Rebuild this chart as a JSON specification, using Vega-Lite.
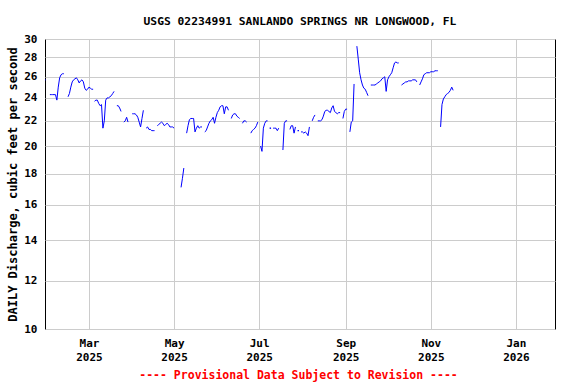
{
  "$schema": "https://vega.github.io/schema/vega-lite/v6.json",
  "autosize": "none",
  "width": 510,
  "height": 290,
  "padding": {"left": 45, "top": 39, "right": 21, "bottom": 55},
  "background": "white",
  "title": {
    "text": "USGS 02234991 SANLANDO SPRINGS NR LONGWOOD, FL",
    "font": "DejaVu Sans Mono",
    "fontSize": 11.3,
    "fontWeight": "bold",
    "color": "black",
    "anchor": "middle",
    "baseline": "alphabetic",
    "offset": 15,
    "dy": 18
  },
  "config": {
    "view": {"stroke": "black", "strokeWidth": 1},
    "axis": {
      "labelFont": "DejaVu Sans Mono",
      "labelFontWeight": "bold",
      "labelFontSize": 11,
      "labelColor": "black",
      "titleFont": "DejaVu Sans Mono",
      "titleFontWeight": "bold",
      "gridColor": "#cccccc",
      "gridWidth": 1,
      "gridOpacity": 1,
      "domain": false,
      "ticks": false
    }
  },
  "data": {
    "values": [
      {"d":"2025-01-28","q":25.7,"s":1},{"d":"2025-01-29","q":25.7,"s":1},
      {"d":"2025-02-01","q":24.3,"s":2},{"d":"2025-02-02","q":24.3,"s":2},{"d":"2025-02-03","q":24.3,"s":2},{"d":"2025-02-04","q":24.3,"s":2},{"d":"2025-02-05","q":24.3,"s":2},{"d":"2025-02-06","q":23.8,"s":2},{"d":"2025-02-07","q":25.0,"s":2},{"d":"2025-02-08","q":25.9,"s":2},{"d":"2025-02-09","q":26.2,"s":2},{"d":"2025-02-10","q":26.3,"s":2},{"d":"2025-02-11","q":26.3,"s":2},
      {"d":"2025-02-14","q":24.1,"s":3},{"d":"2025-02-15","q":24.4,"s":3},{"d":"2025-02-16","q":25.0,"s":3},{"d":"2025-02-17","q":25.5,"s":3},{"d":"2025-02-18","q":25.7,"s":3},{"d":"2025-02-19","q":25.8,"s":3},{"d":"2025-02-20","q":25.9,"s":3},{"d":"2025-02-21","q":25.7,"s":3},{"d":"2025-02-22","q":25.4,"s":3},{"d":"2025-02-23","q":25.6,"s":3},{"d":"2025-02-24","q":25.7,"s":3},{"d":"2025-02-25","q":25.5,"s":3},{"d":"2025-02-26","q":24.9,"s":3},{"d":"2025-02-27","q":24.7,"s":3},{"d":"2025-02-28","q":24.8,"s":3},{"d":"2025-03-01","q":25.0,"s":3},{"d":"2025-03-02","q":24.9,"s":3},{"d":"2025-03-03","q":24.8,"s":3},{"d":"2025-03-04","q":24.8,"s":3},
      {"d":"2025-03-05","q":23.7,"s":4},{"d":"2025-03-06","q":23.8,"s":4},{"d":"2025-03-07","q":23.8,"s":4},{"d":"2025-03-08","q":23.5,"s":4},{"d":"2025-03-09","q":23.3,"s":4},{"d":"2025-03-10","q":23.4,"s":4},{"d":"2025-03-11","q":21.4,"s":4},{"d":"2025-03-12","q":22.0,"s":4},{"d":"2025-03-13","q":23.8,"s":4},{"d":"2025-03-14","q":24.0,"s":4},{"d":"2025-03-15","q":24.0,"s":4},{"d":"2025-03-16","q":24.1,"s":4},{"d":"2025-03-17","q":24.2,"s":4},{"d":"2025-03-18","q":24.4,"s":4},{"d":"2025-03-19","q":24.6,"s":4},
      {"d":"2025-03-21","q":23.3,"s":5},{"d":"2025-03-22","q":23.3,"s":5},{"d":"2025-03-23","q":23.1,"s":5},{"d":"2025-03-24","q":22.8,"s":5},
      {"d":"2025-03-26","q":21.9,"s":6},{"d":"2025-03-27","q":22.0,"s":6},{"d":"2025-03-28","q":22.3,"s":6},{"d":"2025-03-29","q":21.9,"s":6},
      {"d":"2025-04-01","q":22.6,"s":7},{"d":"2025-04-02","q":22.6,"s":7},{"d":"2025-04-03","q":22.6,"s":7},{"d":"2025-04-04","q":22.5,"s":7},{"d":"2025-04-05","q":22.3,"s":7},{"d":"2025-04-06","q":21.9,"s":7},{"d":"2025-04-07","q":21.5,"s":7},{"d":"2025-04-08","q":22.2,"s":7},{"d":"2025-04-09","q":22.9,"s":7},
      {"d":"2025-04-11","q":21.4,"s":8},{"d":"2025-04-12","q":21.5,"s":8},{"d":"2025-04-13","q":21.3,"s":8},{"d":"2025-04-14","q":21.3,"s":8},{"d":"2025-04-15","q":21.2,"s":8},{"d":"2025-04-16","q":21.2,"s":8},{"d":"2025-04-17","q":21.2,"s":8},
      {"d":"2025-04-19","q":21.6,"s":9},{"d":"2025-04-20","q":21.7,"s":9},{"d":"2025-04-21","q":21.8,"s":9},{"d":"2025-04-22","q":21.9,"s":9},{"d":"2025-04-23","q":21.8,"s":9},{"d":"2025-04-24","q":21.6,"s":9},{"d":"2025-04-25","q":21.7,"s":9},{"d":"2025-04-26","q":21.8,"s":9},{"d":"2025-04-27","q":21.7,"s":9},{"d":"2025-04-28","q":21.5,"s":9},{"d":"2025-04-29","q":21.5,"s":9},{"d":"2025-04-30","q":21.5,"s":9},{"d":"2025-05-01","q":21.4,"s":9},
      {"d":"2025-05-06","q":17.1,"s":10},{"d":"2025-05-07","q":17.7,"s":10},{"d":"2025-05-08","q":18.4,"s":10},
      {"d":"2025-05-10","q":21.0,"s":11},{"d":"2025-05-11","q":21.6,"s":11},{"d":"2025-05-12","q":22.1,"s":11},{"d":"2025-05-13","q":22.2,"s":11},{"d":"2025-05-14","q":22.2,"s":11},{"d":"2025-05-15","q":22.2,"s":11},{"d":"2025-05-16","q":21.1,"s":11},{"d":"2025-05-17","q":21.4,"s":11},{"d":"2025-05-18","q":21.6,"s":11},{"d":"2025-05-19","q":21.4,"s":11},{"d":"2025-05-20","q":21.5,"s":11},{"d":"2025-05-21","q":21.5,"s":11},
      {"d":"2025-05-23","q":21.1,"s":12},{"d":"2025-05-24","q":21.2,"s":12},{"d":"2025-05-25","q":21.5,"s":12},{"d":"2025-05-26","q":21.8,"s":12},{"d":"2025-05-27","q":22.0,"s":12},{"d":"2025-05-28","q":22.1,"s":12},{"d":"2025-05-29","q":22.3,"s":12},{"d":"2025-05-30","q":21.8,"s":12},{"d":"2025-05-31","q":22.3,"s":12},{"d":"2025-06-01","q":22.7,"s":12},{"d":"2025-06-02","q":22.9,"s":12},{"d":"2025-06-03","q":23.2,"s":12},{"d":"2025-06-04","q":23.3,"s":12},{"d":"2025-06-05","q":23.3,"s":12},{"d":"2025-06-06","q":22.6,"s":12},{"d":"2025-06-07","q":23.2,"s":12},{"d":"2025-06-08","q":23.2,"s":12},{"d":"2025-06-09","q":22.9,"s":12},
      {"d":"2025-06-11","q":22.2,"s":13},{"d":"2025-06-12","q":22.5,"s":13},{"d":"2025-06-13","q":22.6,"s":13},{"d":"2025-06-14","q":22.6,"s":13},{"d":"2025-06-15","q":22.4,"s":13},{"d":"2025-06-16","q":22.3,"s":13},{"d":"2025-06-17","q":22.2,"s":13},
      {"d":"2025-06-19","q":21.8,"s":14},{"d":"2025-06-20","q":22.0,"s":14},{"d":"2025-06-21","q":22.0,"s":14},{"d":"2025-06-22","q":21.9,"s":14},
      {"d":"2025-06-25","q":21.0,"s":15},{"d":"2025-06-26","q":21.2,"s":15},{"d":"2025-06-27","q":21.3,"s":15},{"d":"2025-06-28","q":21.4,"s":15},{"d":"2025-06-29","q":21.6,"s":15},{"d":"2025-06-30","q":21.9,"s":15},
      {"d":"2025-07-02","q":20.0,"s":16},{"d":"2025-07-03","q":19.6,"s":16},{"d":"2025-07-04","q":21.4,"s":16},{"d":"2025-07-05","q":21.8,"s":16},{"d":"2025-07-06","q":22.0,"s":16},{"d":"2025-07-07","q":22.0,"s":16},
      {"d":"2025-07-09","q":21.4,"s":17},
      {"d":"2025-07-11","q":21.4,"s":18},{"d":"2025-07-12","q":21.4,"s":18},{"d":"2025-07-13","q":21.4,"s":18},{"d":"2025-07-14","q":21.2,"s":18},{"d":"2025-07-15","q":21.4,"s":18},
      {"d":"2025-07-18","q":19.7,"s":19},{"d":"2025-07-19","q":21.8,"s":19},{"d":"2025-07-20","q":22.0,"s":19},{"d":"2025-07-21","q":22.0,"s":19},
      {"d":"2025-07-23","q":21.3,"s":20},{"d":"2025-07-24","q":21.6,"s":20},{"d":"2025-07-25","q":21.6,"s":20},{"d":"2025-07-26","q":21.0,"s":20},{"d":"2025-07-27","q":21.5,"s":20},
      {"d":"2025-07-29","q":21.2,"s":21},
      {"d":"2025-07-31","q":21.1,"s":22},{"d":"2025-08-01","q":21.1,"s":22},{"d":"2025-08-02","q":21.0,"s":22},{"d":"2025-08-03","q":21.1,"s":22},{"d":"2025-08-04","q":21.0,"s":22},{"d":"2025-08-05","q":20.8,"s":22},{"d":"2025-08-06","q":21.5,"s":22},
      {"d":"2025-08-08","q":22.0,"s":23},{"d":"2025-08-09","q":22.3,"s":23},{"d":"2025-08-10","q":22.5,"s":23},
      {"d":"2025-08-12","q":22.0,"s":24},{"d":"2025-08-13","q":22.0,"s":24},{"d":"2025-08-14","q":22.0,"s":24},{"d":"2025-08-15","q":22.1,"s":24},{"d":"2025-08-16","q":22.4,"s":24},{"d":"2025-08-17","q":22.8,"s":24},{"d":"2025-08-18","q":22.9,"s":24},{"d":"2025-08-19","q":22.9,"s":24},{"d":"2025-08-20","q":22.8,"s":24},{"d":"2025-08-21","q":22.7,"s":24},{"d":"2025-08-22","q":23.1,"s":24},{"d":"2025-08-23","q":23.3,"s":24},{"d":"2025-08-24","q":22.8,"s":24},{"d":"2025-08-25","q":22.7,"s":24},{"d":"2025-08-26","q":22.6,"s":24},{"d":"2025-08-27","q":22.7,"s":24},{"d":"2025-08-28","q":22.7,"s":24},
      {"d":"2025-08-30","q":22.2,"s":25},{"d":"2025-08-31","q":22.8,"s":25},{"d":"2025-09-01","q":23.0,"s":25},{"d":"2025-09-02","q":23.0,"s":25},
      {"d":"2025-09-04","q":21.1,"s":26},{"d":"2025-09-05","q":21.9,"s":26},{"d":"2025-09-06","q":22.0,"s":26},{"d":"2025-09-07","q":25.3,"s":26},
      {"d":"2025-09-09","q":29.2,"s":27},{"d":"2025-09-10","q":27.8,"s":27},{"d":"2025-09-11","q":26.4,"s":27},{"d":"2025-09-12","q":25.7,"s":27},{"d":"2025-09-13","q":25.2,"s":27},{"d":"2025-09-14","q":24.9,"s":27},{"d":"2025-09-15","q":24.8,"s":27},{"d":"2025-09-16","q":24.5,"s":27},{"d":"2025-09-17","q":24.2,"s":27},
      {"d":"2025-09-19","q":25.2,"s":28},{"d":"2025-09-20","q":25.2,"s":28},{"d":"2025-09-21","q":25.2,"s":28},{"d":"2025-09-22","q":25.2,"s":28},{"d":"2025-09-23","q":25.3,"s":28},{"d":"2025-09-24","q":25.4,"s":28},{"d":"2025-09-25","q":25.5,"s":28},{"d":"2025-09-26","q":25.6,"s":28},{"d":"2025-09-27","q":25.8,"s":28},{"d":"2025-09-28","q":25.9,"s":28},{"d":"2025-09-29","q":26.0,"s":28},{"d":"2025-09-30","q":24.6,"s":28},{"d":"2025-10-01","q":25.7,"s":28},{"d":"2025-10-02","q":26.0,"s":28},{"d":"2025-10-03","q":26.2,"s":28},{"d":"2025-10-04","q":26.4,"s":28},{"d":"2025-10-05","q":26.9,"s":28},{"d":"2025-10-06","q":27.4,"s":28},{"d":"2025-10-07","q":27.5,"s":28},{"d":"2025-10-08","q":27.4,"s":28},{"d":"2025-10-09","q":27.4,"s":28},
      {"d":"2025-10-11","q":25.2,"s":29},{"d":"2025-10-12","q":25.3,"s":29},{"d":"2025-10-13","q":25.4,"s":29},{"d":"2025-10-14","q":25.5,"s":29},{"d":"2025-10-15","q":25.5,"s":29},{"d":"2025-10-16","q":25.6,"s":29},{"d":"2025-10-17","q":25.6,"s":29},{"d":"2025-10-18","q":25.6,"s":29},{"d":"2025-10-19","q":25.7,"s":29},{"d":"2025-10-20","q":25.7,"s":29},{"d":"2025-10-21","q":25.7,"s":29},{"d":"2025-10-22","q":25.5,"s":29},
      {"d":"2025-10-24","q":25.2,"s":30},{"d":"2025-10-25","q":25.5,"s":30},{"d":"2025-10-26","q":25.8,"s":30},{"d":"2025-10-27","q":26.2,"s":30},{"d":"2025-10-28","q":26.3,"s":30},{"d":"2025-10-29","q":26.4,"s":30},{"d":"2025-10-30","q":26.4,"s":30},{"d":"2025-10-31","q":26.4,"s":30},{"d":"2025-11-01","q":26.5,"s":30},{"d":"2025-11-02","q":26.5,"s":30},{"d":"2025-11-03","q":26.5,"s":30},{"d":"2025-11-04","q":26.6,"s":30},{"d":"2025-11-05","q":26.6,"s":30},{"d":"2025-11-06","q":26.6,"s":30},
      {"d":"2025-11-08","q":21.5,"s":31},{"d":"2025-11-09","q":23.4,"s":31},{"d":"2025-11-10","q":23.9,"s":31},{"d":"2025-11-11","q":24.1,"s":31},{"d":"2025-11-12","q":24.3,"s":31},{"d":"2025-11-13","q":24.4,"s":31},{"d":"2025-11-14","q":24.5,"s":31},{"d":"2025-11-15","q":24.7,"s":31},{"d":"2025-11-16","q":25.0,"s":31},{"d":"2025-11-17","q":24.7,"s":31}
    ]
  },
  "encoding": {
    "x": {
      "field": "d",
      "type": "temporal",
      "scale": {
        "type": "utc",
        "domain": [
          {"year": 2025, "month": 1, "date": 28, "hours": 12, "utc": true},
          {"year": 2026, "month": 1, "date": 29, "utc": true}
        ]
      },
      "axis": {
        "values": [
          {"year": 2025, "month": 3, "date": 1, "utc": true},
          {"year": 2025, "month": 5, "date": 1, "utc": true},
          {"year": 2025, "month": 7, "date": 1, "utc": true},
          {"year": 2025, "month": 9, "date": 1, "utc": true},
          {"year": 2025, "month": 11, "date": 1, "utc": true},
          {"year": 2026, "month": 1, "date": 1, "utc": true}
        ],
        "labelExpr": "[utcFormat(datum.value, '%b'), utcFormat(datum.value, '%Y')]",
        "labelPadding": 8,
        "labelLineHeight": 14,
        "labelBaseline": "top",
        "title": "---- Provisional Data Subject to Revision ----",
        "titleColor": "#ff0000",
        "titleFontSize": 11.5,
        "titleX": 253,
        "titleY": 46,
        "titleBaseline": "middle",
        "titleAnchor": "middle"
      }
    },
    "y": {
      "field": "q",
      "type": "quantitative",
      "scale": {"type": "log", "domain": [10, 30], "nice": false},
      "axis": {
        "values": [10, 12, 14, 16, 18, 20, 22, 24, 26, 28, 30],
        "labelPadding": 8,
        "title": "DAILY Discharge, cubic feet per second",
        "titleFontSize": 12,
        "titleColor": "black",
        "titleX": -33,
        "titleY": 145,
        "titleAngle": -90,
        "titleBaseline": "middle",
        "titleAnchor": "middle"
      }
    }
  },
  "layer": [
    {
      "mark": {"type": "line", "color": "#0000ff", "strokeWidth": 1, "clip": true},
      "encoding": {"detail": {"field": "s", "type": "nominal"}}
    },
    {
      "transform": [
        {"joinaggregate": [{"op": "count", "as": "n"}], "groupby": ["s"]},
        {"filter": "datum.n == 1"}
      ],
      "mark": {"type": "square", "color": "#0000ff", "size": 2, "opacity": 1},
      "encoding": {}
    }
  ]
}
